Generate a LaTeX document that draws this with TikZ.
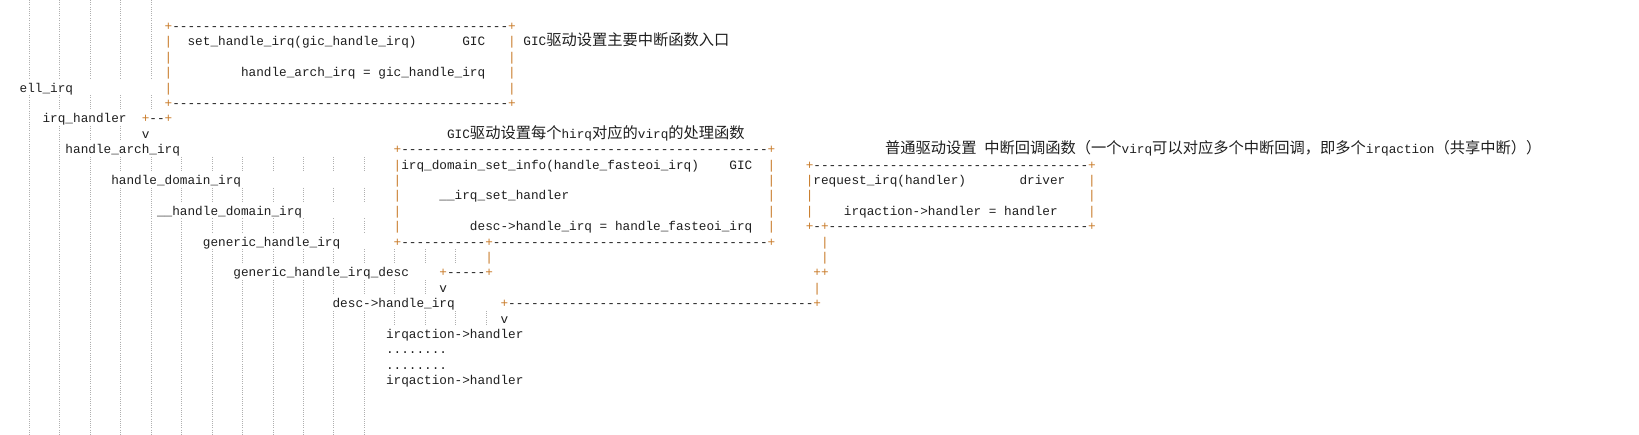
\documentclass[tikz,border=0pt]{standalone}
\usepackage{fontspec}
\setmonofont{Liberation Mono}
\newfontfamily\cjk{Noto Sans CJK SC}
\ExplSyntaxOn
\cs_new:Npn \rep #1#2 {\prg_replicate:nn{#1}{#2}}
\ExplSyntaxOff
\definecolor{bor}{RGB}{200,122,40}
\definecolor{txt}{RGB}{30,30,30}
\definecolor{gd}{RGB}{175,175,175}
\newcommand\PP{\textcolor{bor}{+}}
\newcommand\II{\textcolor{bor}{|}}
\newcommand\DD[1]{\rep{#1}{-}}
\newcommand\CJ[1]{{\cjk\fontsize{15.26}{16}\selectfont #1}}
\newcommand\T[4]{\node[tt] (#1) at ({19.7+#3*7.632},{435-(26+15.4*#2)-4.6}) {#4};}
\begin{document}
\begin{tikzpicture}[x=1pt,y=1pt,
  tt/.style={anchor=base west,inner sep=0pt,outer sep=0pt,text=txt,font=\ttfamily\fontsize{12.72}{15}\selectfont},
  guide/.style={draw=gd,line width=0.7pt,dash pattern=on 1pt off 1.2pt}]
\useasboundingbox (0,0) rectangle (1639,435);
% indentation guides
\draw[guide] \foreach \j in {0,...,4} {({29.3+30.45*\j},435) -- ({29.3+30.45*\j},{435-18.3})};
\foreach \r/\k in {0/4,1/4,2/4,3/4,5/4,6/0,7/3,8/1,9/11,10/2,11/11,12/4,13/11,14/5,15/14,16/6,17/13,18/9,19/15,20/11,21/11,22/11,23/11}{
  \draw[guide] \foreach \j in {0,...,\k} {({29.3+30.45*\j},{435-(18.3+15.4*\r)}) -- ({29.3+30.45*\j},{435-(18.3+15.4*\r+15.4)})};
}
\draw[guide] \foreach \j in {0,...,11} {({29.3+30.45*\j},{435-387.9}) -- ({29.3+30.45*\j},0)};
% box 1
\T{b1t}{0}{19}{\PP\DD{44}\PP}
\T{b1l1}{1}{19}{\II}
\T{sethandle}{1}{22}{set\_handle\_irq(gic\_handle\_irq)}
\T{gic1}{1}{58}{GIC}
\T{b1r1}{1}{64}{\II}
\T{title1}{1}{66}{GIC\CJ{驱动设置主要中断函数入口}}
\T{b1l2}{2}{19}{\II}
\T{b1r2}{2}{64}{\II}
\T{b1l3}{3}{19}{\II}
\T{archset}{3}{29}{handle\_arch\_irq = gic\_handle\_irq}
\T{b1r3}{3}{64}{\II}
\T{ellirq}{4}{0}{ell\_irq}
\T{b1l4}{4}{19}{\II}
\T{b1r4}{4}{64}{\II}
\T{b1b}{5}{19}{\PP\DD{44}\PP}
% call chain
\T{irqh}{6}{3}{irq\_handler}
\T{c1}{6}{16}{\PP\DD{2}\PP}
\T{v1}{7}{16}{v}
\T{title2}{7}{56}{GIC\CJ{驱动设置每个}hirq\CJ{对应的}virq\CJ{的处理函数}}
\T{harch}{8}{6}{handle\_arch\_irq}
\T{title3}{8}{113.4}{\CJ{普通驱动设置} \CJ{中断回调函数（一个}virq\CJ{可以对应多个中断回调，即多个}irqaction\CJ{（共享中断））}}
\T{hdom}{10}{12}{handle\_domain\_irq}
\T{uhdom}{12}{18}{\_\_handle\_domain\_irq}
\T{ghi}{14}{24}{generic\_handle\_irq}
\T{ghid}{16}{28}{generic\_handle\_irq\_desc}
\T{c2}{16}{55}{\PP\DD{5}\PP}
\T{v2}{17}{55}{v}
\T{dhi}{18}{41}{desc->handle\_irq}
\T{c3}{18}{63}{\PP\DD{40}\PP}
\T{v3}{19}{63}{v}
\T{ia1}{20}{48}{irqaction->handler}
\T{dots1}{21}{48}{........}
\T{dots2}{22}{48}{........}
\T{ia2}{23}{48}{irqaction->handler}
% box 2
\T{b2t}{8}{49}{\PP\DD{48}\PP}
\T{b2l9}{9}{49}{\II}
\T{idsi}{9}{50}{irq\_domain\_set\_info(handle\_fasteoi\_irq)}
\T{gic2}{9}{93}{GIC}
\T{b2r9}{9}{98}{\II}
\T{b2l10}{10}{49}{\II}
\T{b2r10}{10}{98}{\II}
\T{b2l11}{11}{49}{\II}
\T{ish}{11}{55}{\_\_irq\_set\_handler}
\T{b2r11}{11}{98}{\II}
\T{b2l12}{12}{49}{\II}
\T{b2r12}{12}{98}{\II}
\T{b2l13}{13}{49}{\II}
\T{dhf}{13}{59}{desc->handle\_irq = handle\_fasteoi\_irq}
\T{b2r13}{13}{98}{\II}
\T{b2b}{14}{49}{\PP\DD{11}\PP\DD{36}\PP}
\T{p15}{15}{61}{\II}
% box 3
\T{b3t}{9}{103}{\PP\DD{36}\PP}
\T{b3l10}{10}{103}{\II}
\T{reqirq}{10}{104}{request\_irq(handler)}
\T{drv}{10}{131}{driver}
\T{b3r10}{10}{140}{\II}
\T{b3l11}{11}{103}{\II}
\T{b3r11}{11}{140}{\II}
\T{b3l12}{12}{103}{\II}
\T{iah}{12}{108}{irqaction->handler = handler}
\T{b3r12}{12}{140}{\II}
\T{b3b}{13}{103}{\PP-\PP\DD{34}\PP}
\T{q14}{14}{105}{\II}
\T{q15}{15}{105}{\II}
\T{q16}{16}{104}{\PP\PP}
\T{q17}{17}{104}{\II}
\end{tikzpicture}
\end{document}
